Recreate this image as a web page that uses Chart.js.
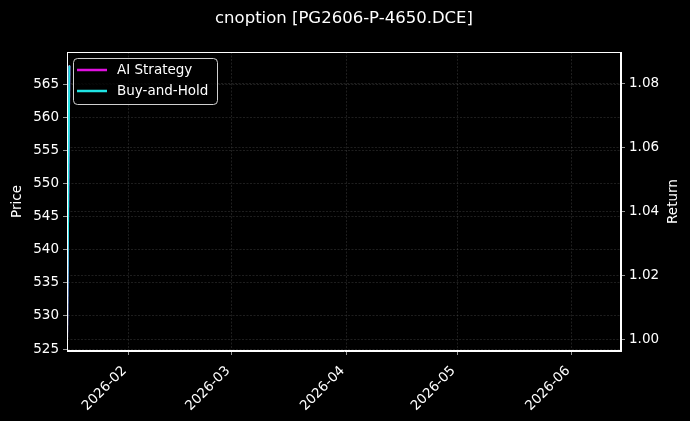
<!DOCTYPE html>
<html>
<head>
<meta charset="utf-8">
<title>cnoption [PG2606-P-4650.DCE]</title>
<script src="https://cdn.jsdelivr.net/npm/chart.js@4"></script>
<style>
  html, body { margin: 0; padding: 0; background: #000; }
  canvas { display: block; }
</style>
</head>
<body>
<canvas id="chart" width="690" height="421"></canvas>
<script>
// data
var chartTitle = 'cnoption [PG2606-P-4650.DCE]';
var times = ['2026-01-15T09:00:00Z', '2026-01-16T00:00:00Z'];
var price = [526.8, 567.9];
var aiReturn = [1.0005, 1.0856];
var holdReturn = [1.0005, 1.0856];
var monthLabels = ['2026-02', '2026-03', '2026-04', '2026-05', '2026-06'];

var FONT = '"DejaVu Sans", sans-serif';
var t0 = Date.parse('2026-01-01T00:00:00Z');
function dayNum(s) { return (Date.parse(s) - t0) / 86400000; }

var monthTicks = monthLabels.map(function(m){ return dayNum(m + '-01T00:00:00Z'); });

function pts(vals) {
    return vals.map(function(v, i){ return { x: dayNum(times[i]), y: v }; });
}

var frameAndText = {
    id: 'frameAndText',
    beforeDraw: function(chart) {
        var ctx = chart.ctx;
        ctx.save();
        ctx.fillStyle = '#000';
        ctx.fillRect(0, 0, chart.width, chart.height);
        ctx.restore();
    },
    afterDraw: function(chart) {
        var ctx = chart.ctx, a = chart.chartArea;
        ctx.save();
        // frame
        ctx.strokeStyle = '#fff';
        ctx.lineWidth = 1;
        ctx.strokeRect(Math.round(a.left) + 0.5, Math.round(a.top) + 0.5,
                       Math.round(a.right - a.left) - 1, Math.round(a.bottom - a.top) - 1);
        // title
        ctx.fillStyle = '#fff';
        ctx.font = '16.5px ' + FONT;
        ctx.textAlign = 'center';
        ctx.textBaseline = 'middle';
        ctx.fillText(chartTitle, (a.left + a.right) / 2, 19);
        // axis titles
        ctx.font = '13.5px ' + FONT;
        var mid = (a.top + a.bottom) / 2;
        ctx.translate(17, mid); ctx.rotate(-Math.PI / 2);
        ctx.fillText('Price', 0, 0);
        ctx.setTransform(1, 0, 0, 1, 0, 0);
        ctx.translate(673, mid); ctx.rotate(-Math.PI / 2);
        ctx.fillText('Return', 0, 0);
        ctx.setTransform(1, 0, 0, 1, 0, 0);
        // legend
        var items = chart.data.datasets.filter(function(d){ return d.inLegend; });
        var x0 = a.left + 6, y0 = a.top + 6, w = 144, h = 46, r = 4;
        ctx.beginPath();
        ctx.roundRect(x0 + 0.5, y0 + 0.5, w, h, r);
        ctx.fillStyle = 'rgba(0,0,0,0.8)';
        ctx.fill();
        ctx.strokeStyle = '#d0d0d0';
        ctx.lineWidth = 1;
        ctx.stroke();
        ctx.textAlign = 'left';
        items.forEach(function(d, i){
            var y = y0 + 12 + i * 21;
            ctx.beginPath();
            ctx.moveTo(x0 + 4, y); ctx.lineTo(x0 + 34, y);
            ctx.strokeStyle = d.borderColor;
            ctx.lineWidth = 2.5;
            ctx.stroke();
            ctx.fillStyle = '#fff';
            ctx.fillText(d.label, x0 + 44, y);
        });
        ctx.restore();
    }
};

var gridCommon = {
    color: 'rgba(128,128,128,0.4)',
    lineWidth: 0.6,
    tickColor: '#fff',
    tickLength: 4
};
var borderCommon = { color: '#fff', width: 1, dash: [2, 1.5] };

new Chart(document.getElementById('chart'), {
    type: 'line',
    data: {
        datasets: [
            {
                label: 'Price', data: pts(price), yAxisID: 'y',
                borderColor: '#ffffff', borderWidth: 1, pointRadius: 0, order: 2, inLegend: false
            },
            {
                label: 'AI Strategy', data: pts(aiReturn), yAxisID: 'y2',
                borderColor: '#e010e0', borderWidth: 2, pointRadius: 0, order: 1, inLegend: true
            },
            {
                label: 'Buy-and-Hold', data: pts(holdReturn), yAxisID: 'y2',
                borderColor: '#20e4e4', borderWidth: 2, pointRadius: 0, order: 0, inLegend: true
            }
        ]
    },
    options: {
        responsive: false,
        animation: false,
        devicePixelRatio: 1,
        layout: { padding: { top: 52, left: 0, right: 0, bottom: 0 } },
        plugins: { legend: { display: false }, title: { display: false }, tooltip: { enabled: false } },
        scales: {
            x: {
                type: 'linear',
                min: 14.36,
                max: 164.26,
                afterFit: function(s){ s.height = 70; },
                afterBuildTicks: function(s){
                    s.ticks = monthTicks.map(function(v){ return { value: v }; });
                },
                ticks: {
                    color: '#fff',
                    font: { family: FONT, size: 13.5 },
                    padding: 8,
                    labelOffset: -4,
                    minRotation: 45,
                    maxRotation: 45,
                    autoSkip: false,
                    callback: function(v){
                        var i = monthTicks.indexOf(v);
                        return i >= 0 ? monthLabels[i] : '';
                    }
                },
                grid: gridCommon,
                border: borderCommon
            },
            y: {
                position: 'left',
                min: 524.7,
                max: 569.9,
                afterFit: function(s){ s.width = 67; },
                ticks: {
                    stepSize: 5,
                    includeBounds: false,
                    color: '#fff',
                    font: { family: FONT, size: 13.5 },
                    padding: 4
                },
                grid: gridCommon,
                border: borderCommon
            },
            y2: {
                position: 'right',
                min: 0.99625,
                max: 1.0899,
                afterFit: function(s){ s.width = 69; },
                ticks: {
                    stepSize: 0.02,
                    includeBounds: false,
                    color: '#fff',
                    font: { family: FONT, size: 13.5 },
                    padding: 4,
                    callback: function(v){ return v.toFixed(2); }
                },
                grid: gridCommon,
                border: borderCommon
            }
        }
    },
    plugins: [frameAndText]
});
</script>
</body>
</html>
